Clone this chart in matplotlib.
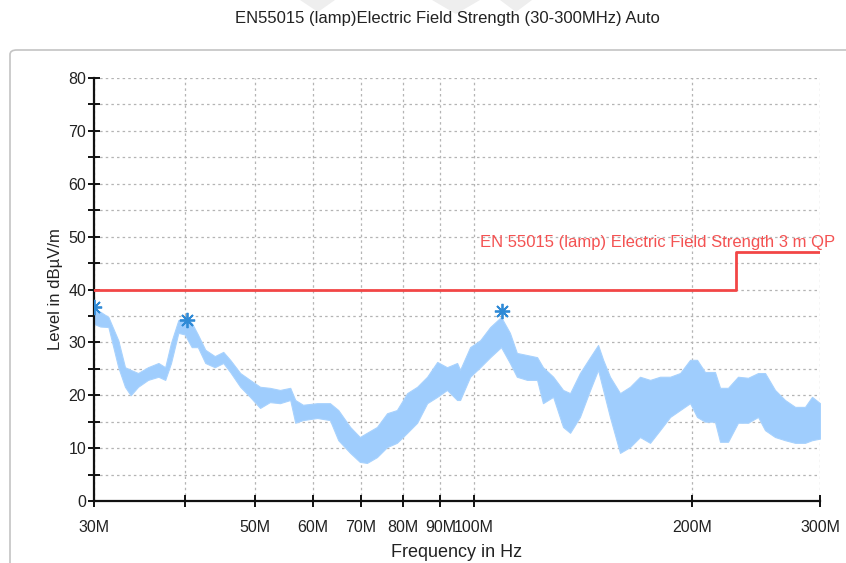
import matplotlib
matplotlib.use("Agg")
import matplotlib.pyplot as plt
from matplotlib.patches import FancyBboxPatch, Polygon
from matplotlib.ticker import FixedLocator, NullFormatter, MultipleLocator

plt.rcParams["font.family"] = ["Liberation Sans", "DejaVu Sans"]

freq = [30.0, 30.6, 31.4, 32.4, 33.1, 33.7, 34.5, 35.6, 36.8, 37.6, 38.3, 39.2,
        40.0, 40.9, 41.7, 42.7, 44.0, 45.2, 46.2, 47.7, 49.2, 50.8, 52.4, 54.1,
        55.9, 56.8, 58.2, 60.9, 63.4, 65.1, 67.6, 69.7, 71.3, 73.6, 76.0, 78.4,
        81.0, 83.6, 86.3, 89.1, 91.9, 94.9, 95.8, 98.9, 102.1, 105.4, 109.1,
        112.2, 114.7, 118.5, 122.3, 124.6, 128.7, 132.8, 135.8, 140.1, 144.7,
        148.4, 150.8, 154.1, 159.1, 164.2, 169.5, 175.0, 180.6, 186.5, 192.5,
        198.7, 203.1, 208.3, 215.0, 218.5, 224.1, 231.3, 238.8, 246.5, 252.0,
        260.1, 268.5, 277.2, 286.1, 292.5, 300.0]
upper = [36.0, 35.8, 34.8, 30.4, 25.3, 24.8, 24.2, 25.3, 26.1, 25.3, 29.9, 34.2,
         34.5, 33.7, 31.5, 28.6, 27.4, 28.2, 26.7, 24.2, 22.9, 21.6, 21.4, 21.0,
         21.4, 19.1, 18.2, 18.5, 18.5, 17.2, 14.0, 12.1, 12.9, 14.0, 16.6, 17.2,
         20.4, 21.6, 23.5, 26.3, 25.3, 26.1, 24.8, 29.1, 30.4, 32.9, 34.8,
         31.8, 28.0, 27.6, 27.2, 25.3, 23.5, 21.0, 20.4, 24.2, 27.2,
         29.5, 26.7, 23.5, 20.4, 21.6, 23.5, 22.9, 23.5, 23.5, 24.2,
         26.7, 26.7, 24.4, 24.4, 21.4, 21.4, 23.5, 23.3, 24.2, 24.2,
         21.0, 19.1, 17.8, 17.8, 19.7, 18.5]
lower = [33.5, 33.0, 32.9, 25.3, 21.6, 20.0, 21.6, 22.9, 23.5, 22.9, 26.1, 31.8,
         31.5, 29.1, 29.1, 26.1, 25.3, 26.1, 24.4, 21.6, 19.7, 17.6, 18.7, 18.5,
         19.1, 14.8, 15.3, 15.7, 15.3, 11.5, 9.1, 7.4, 7.2, 8.3, 10.2, 11.0,
         12.9, 14.8, 18.5, 19.7, 21.0, 19.1, 19.1, 23.5, 25.3, 27.2, 29.1,
         26.1, 23.5, 22.9, 22.9, 18.5, 19.7, 14.0, 12.9, 15.9, 21.0,
         24.8, 21.0, 15.9, 9.1, 10.2, 12.1, 11.0, 13.4, 15.9, 17.2,
         18.5, 15.9, 15.0, 15.0, 11.2, 11.2, 14.8, 14.8, 15.9, 13.4,
         12.1, 11.5, 11.0, 11.0, 11.5, 11.8]

# Peak markers
peak_freq = [30.0, 40.3, 109.3]
peak_level = [36.6, 34.3, 35.9]

# Limit line EN 55015 (lamp) 3 m QP
limit_freq = [30, 230, 230, 300]
limit_level = [40, 40, 47, 47]

xticks = [30, 40, 50, 60, 70, 80, 90, 100, 200, 300]
xlabels = ["30M", "", "50M", "60M", "70M", "80M", "90M", "100M", "200M", "300M"]

fig = plt.figure(figsize=(8.46, 5.63), dpi=100)
W, H = 846, 563

# panel frame
frame = FancyBboxPatch((10 / W, -0.1), 1.2, (H - 50) / H + 0.1,
                       boxstyle="round,pad=0,rounding_size=0.008",
                       transform=fig.transFigure, fill=False,
                       edgecolor="#c4c4c4", linewidth=1.2)
fig.patches.append(frame)

# faint watermark shapes at the top
for pts in ([(300, 0), (335, 0), (318, 12)],
            [(432, 0), (480, 0), (456, 14)],
            [(500, 0), (532, 0), (516, 12)]):
    fig.patches.append(Polygon([(x / W, 1 - y / H) for x, y in pts], closed=True,
                               transform=fig.transFigure, facecolor="#eeeeee",
                               edgecolor="none"))

fig.text(447 / W, 1 - 18 / H, "EN55015 (lamp)Electric Field Strength (30-300MHz) Auto",
         ha="center", va="center", fontsize=12, color="#222222")

ax = fig.add_axes([94 / W, 62 / H, 726 / W, 423 / H])
ax.set_xscale("log")
ax.set_xlim(30, 300)
ax.set_ylim(0, 80)

ax.fill_between(freq, lower, upper, color="#9fcdfd", linewidth=0.8,
                edgecolor="#a8d2fd", zorder=2)
ax.plot(limit_freq, limit_level, color="#f24646", linewidth=2, zorder=3)
ax.plot(peak_freq, peak_level, linestyle="none", marker=(8, 2, 0), markersize=11,
        markeredgewidth=1.3, color="#2f8ad6", zorder=4)

ax.text(1.0205, 1 - (242 - 78) / 423, "EN 55015 (lamp) Electric Field Strength 3 m QP",
        transform=ax.transAxes, ha="right", va="center", fontsize=12,
        color="#f45252", clip_on=False)

ax.xaxis.set_major_locator(FixedLocator(xticks))
ax.set_xticklabels(xlabels)
ax.xaxis.set_minor_formatter(NullFormatter())
ax.xaxis.set_minor_locator(FixedLocator([]))
ax.yaxis.set_major_locator(MultipleLocator(10))
ax.yaxis.set_minor_locator(MultipleLocator(5))

ax.grid(True, which="both", axis="y", color="#b4b4b4", linestyle=(0, (2, 2.5)), linewidth=0.9)
ax.grid(True, which="major", axis="x", color="#b4b4b4", linestyle=(0, (2, 2.5)), linewidth=0.9)
ax.set_axisbelow(True)

for s in ("top", "right"):
    ax.spines[s].set_visible(False)
for s in ("left", "bottom"):
    ax.spines[s].set_linewidth(1.6)
    ax.spines[s].set_color("#111111")

ax.tick_params(which="both", direction="inout", length=9, width=1.4, color="#111111",
               labelsize=11.5, labelcolor="#222222")
ax.tick_params(axis="x", pad=9)
ax.tick_params(axis="y", pad=1)

ax.set_xlabel("Frequency in Hz", fontsize=13, color="#222222", labelpad=7)
ax.set_ylabel("Level in dBµV/m", fontsize=12, color="#222222", labelpad=4)

fig.savefig("out.png", dpi=100)
